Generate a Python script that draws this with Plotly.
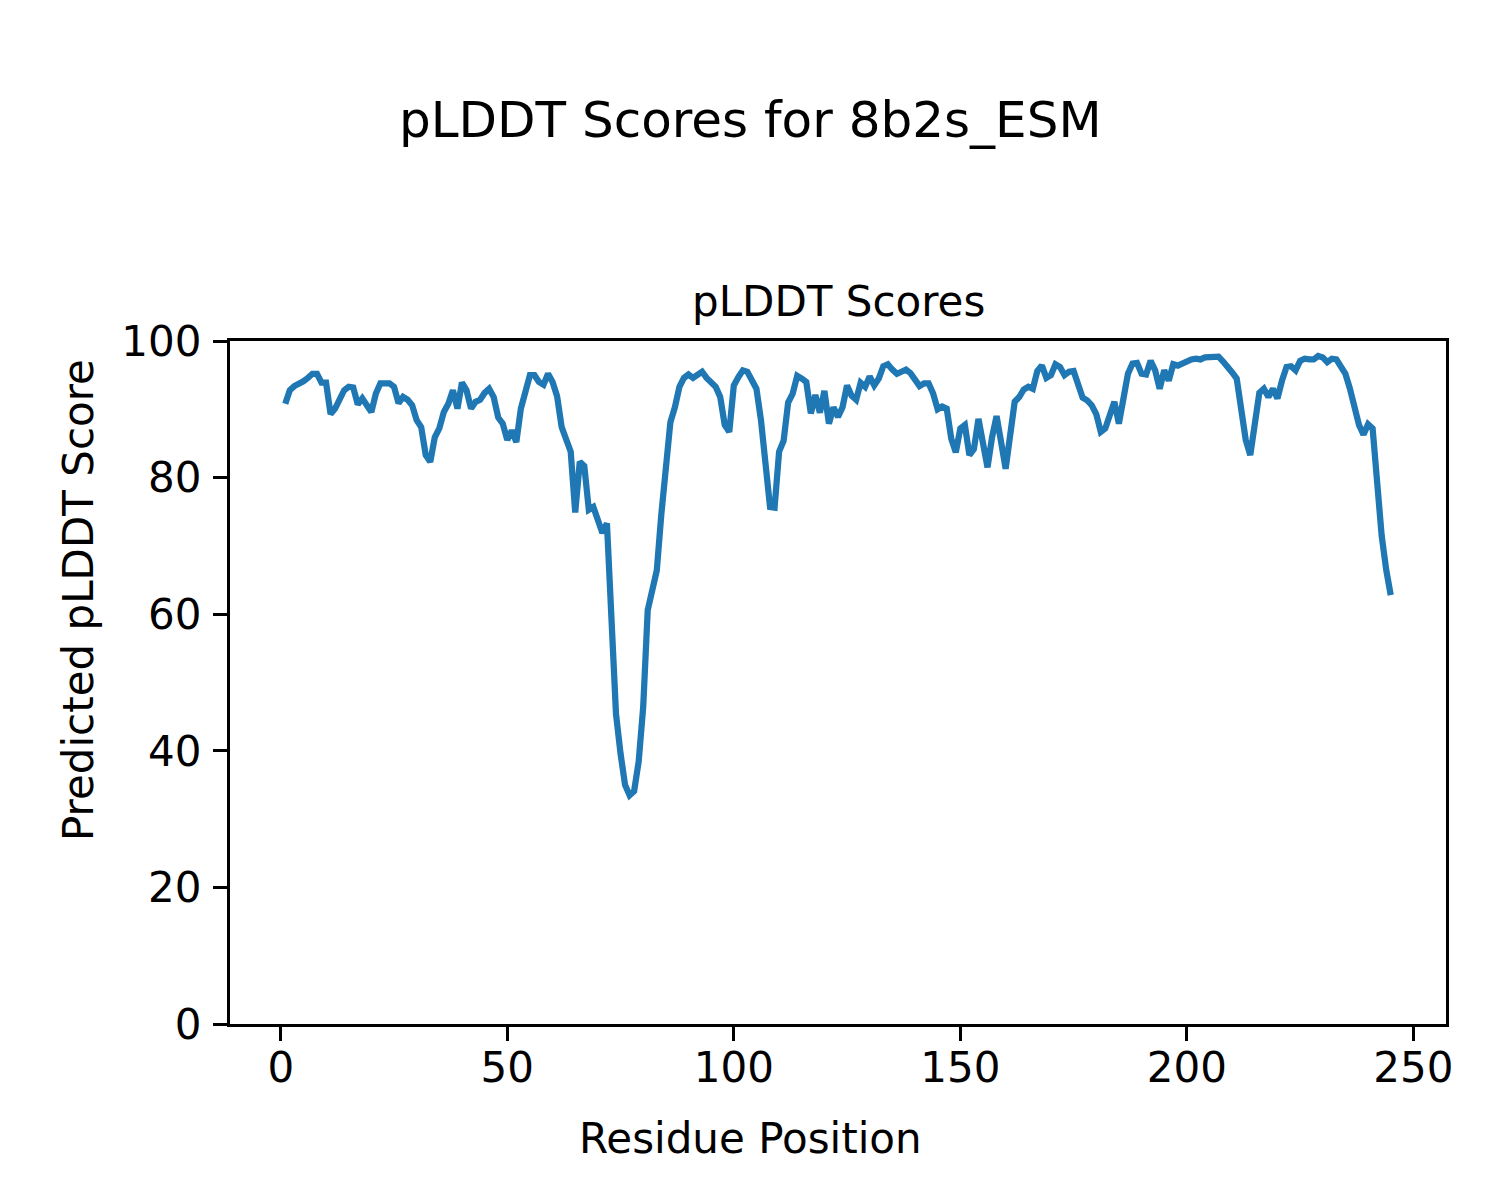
import plotly.graph_objects as go

residues = list(range(1, 246))
plddt = [
    90.8, 92.8, 93.4, 93.7, 94.1, 94.6, 95.2, 95.2, 93.9, 93.9,
    89.3, 90.1, 91.6, 92.8, 93.3, 93.2, 90.7, 91.6, 90.6, 89.6,
    92.3, 93.8, 93.8, 93.8, 93.3, 90.9, 91.8, 91.4, 90.6, 88.4,
    87.4, 83.3, 82.3, 85.9, 87.2, 89.6, 90.8, 92.8, 90.1, 93.9,
    92.8, 90.1, 91.1, 91.4, 92.4, 93.0, 91.8, 88.8, 87.9, 85.5,
    86.9, 85.2, 90.1, 92.3, 95.0, 95.0, 94.0, 93.6, 95.2, 94.0,
    91.9, 87.4, 85.8, 83.8, 74.9, 82.3, 81.7, 75.3, 75.7, 74.0,
    71.9, 73.3, 59.4, 45.4, 39.6, 35.0, 33.5, 34.1, 38.4, 46.4,
    60.6, 64.0, 66.4, 74.6, 80.8, 88.1, 90.3, 93.3, 94.6, 95.1,
    94.6, 95.0, 95.5, 94.6, 94.0, 93.3, 91.8, 87.7, 86.7, 93.5,
    94.7, 95.7, 95.5, 94.2, 93.0, 88.4, 81.6, 75.7, 75.6, 83.8,
    85.4, 91.0, 92.3, 94.9, 94.5, 94.0, 89.4, 92.1, 89.5, 92.7,
    87.9, 90.3, 88.9, 90.3, 93.5, 92.0, 91.4, 93.9, 93.3, 94.8,
    93.5, 94.5, 96.3, 96.6, 95.8, 95.2, 95.5, 95.8, 95.3, 94.2,
    93.4, 93.8, 93.8, 92.3, 90.0, 90.4, 90.1, 85.7, 83.7, 87.2,
    87.7, 83.3, 84.2, 88.6, 85.0, 81.5, 85.9, 89.0, 85.2, 81.3,
    86.2, 91.1, 91.8, 92.9, 93.3, 93.0, 95.6, 96.4, 94.6, 95.0,
    96.6, 96.2, 95.0, 95.5, 95.6, 93.3, 91.7, 91.3, 90.6, 89.3,
    86.7, 87.2, 89.1, 91.1, 87.9, 91.6, 95.2, 96.7, 96.8, 95.2,
    95.1, 97.1, 95.7, 93.0, 95.7, 94.2, 96.6, 96.4, 96.7, 97.2,
    97.3, 97.4, 97.3, 97.6, 97.6, 97.7, 97.7, 97.0, 96.3, 95.4,
    94.5, 90.3, 85.5, 83.3, 87.9, 92.4, 93.0, 91.8, 93.0, 91.6,
    94.2, 96.2, 96.3, 95.7, 97.1, 97.4, 97.3, 97.3, 97.8, 97.6,
    96.9, 97.4, 97.3, 96.4, 95.2, 93.0, 90.3, 87.7, 86.3, 87.8,
    87.2, 79.0, 71.5, 66.5, 62.8,
]
x_ticks = [0, 50, 100, 150, 200, 250]
y_ticks = [0, 20, 40, 60, 80, 100]

suptitle = "pLDDT Scores for 8b2s_ESM"
axes_title = "pLDDT Scores"
x_label = "Residue Position"
y_label = "Predicted pLDDT Score"

FONT = "DejaVu Sans"
fig = go.Figure()
fig.add_trace(go.Scatter(
    x=residues, y=plddt, mode="lines",
    line=dict(color="#1f77b4", width=6.25),
    showlegend=False, hoverinfo="skip",
))

axis_common = dict(
    showline=True, linecolor="black", linewidth=3.3, mirror=True,
    ticks="outside", ticklen=14, tickwidth=3.3, tickcolor="black",
    showgrid=False, zeroline=False,
    tickfont=dict(family=FONT, size=42, color="black"),
)

fig.update_layout(
    width=1500, height=1200,
    margin=dict(l=230, r=54, t=341, b=176, pad=0),
    paper_bgcolor="white", plot_bgcolor="white",
    font=dict(family=FONT, color="black"),
    xaxis=dict(range=[-11.2, 257.2], tickvals=x_ticks,
               ticktext=[str(v) for v in x_ticks], ticklabelstandoff=-10, **axis_common),
    yaxis=dict(range=[0, 100], tickvals=y_ticks,
               ticktext=[str(v) for v in y_ticks], ticklabelstandoff=3, **axis_common),
    annotations=[
        dict(text=suptitle, xref="paper", yref="paper", x=(750 - 230) / 1216,
             y=(1200 - 120 - 176) / 683, xanchor="center", yanchor="middle",
             showarrow=False, font=dict(family=FONT, size=50, color="black")),
        dict(text=axes_title, xref="paper", yref="paper", x=0.5,
             y=(1200 - 302 - 176) / 683, xanchor="center", yanchor="middle",
             showarrow=False, font=dict(family=FONT, size=42, color="black")),
        dict(text=x_label, xref="paper", yref="paper", x=(750 - 230) / 1216,
             y=(1200 - 1138 - 176) / 683, xanchor="center", yanchor="middle",
             showarrow=False, font=dict(family=FONT, size=42, color="black")),
        dict(text=y_label, xref="paper", yref="paper", x=(78 - 230) / 1216,
             y=(1200 - 600 - 176) / 683, xanchor="center", yanchor="middle", textangle=-90,
             showarrow=False, font=dict(family=FONT, size=42, color="black")),
    ],
)

fig.write_html("out.html", config={"displayModeBar": False},
               post_script="document.body.style.margin='0';")
